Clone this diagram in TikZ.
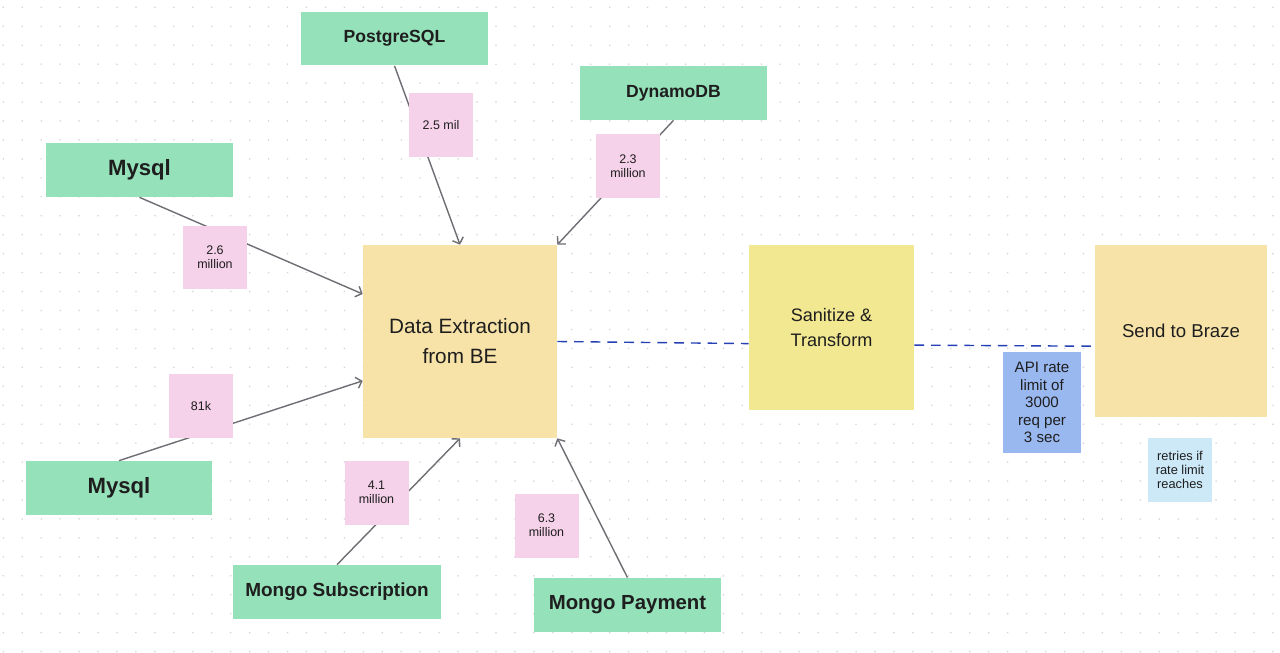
\documentclass[tikz,border=0pt]{standalone}
\usepackage{fontspec}
\setmainfont{Liberation Sans}
\usetikzlibrary{arrows.meta}
\definecolor{ink}{HTML}{1E1E1E}
\definecolor{dbgreen}{HTML}{95E1BA}
\definecolor{stepsand}{HTML}{F7E3A8}
\definecolor{steplemon}{HTML}{F2E892}
\definecolor{notepink}{HTML}{F5D1EA}
\definecolor{noteblue}{HTML}{99B8F0}
\definecolor{notesky}{HTML}{CDE9F8}
\definecolor{feedgray}{HTML}{6E6E74}
\definecolor{flowblue}{HTML}{2440B4}
\definecolor{griddot}{HTML}{D4D4D4}
\tikzset{
  db/.style={fill=dbgreen, text=ink, inner sep=0pt, minimum width=3.74cm,
    minimum height=1.08cm, font=\bfseries\fontsize{10}{12}\selectfont},
  stage/.style={text=ink, inner sep=0pt, align=center},
  count/.style={fill=notepink, text=ink, inner sep=0pt, minimum size=1.28cm,
    align=center, font=\fontsize{7.1}{7.9}\selectfont},
  feed/.style={draw=feedgray, line width=0.8pt, -{Straight Barb[length=3pt,width=6.5pt]}},
  flow/.style={draw=flowblue, line width=0.8pt, dash pattern=on 5.5pt off 4pt}
}
\begin{document}
\begin{tikzpicture}[x=0.02cm, y=-0.02cm]
	\useasboundingbox[fill=white] (0,0) rectangle (1280,652);
	\foreach \i in {0,...,67}
	{
		\foreach \j in {0,...,34}
		{
			\fill[griddot] (3.3+18.95*\i, 7.3+18.95*\j) circle [radius=0.5pt];
		}
	}
	\node[db] (pg) at (394.5,38.5) {PostgreSQL};
	\node[db] (dyn) at (673.5,93) {DynamoDB};
	\node[db, font=\bfseries\fontsize{12.6}{14}\selectfont] (mysqlA) at (139.5,170) {Mysql};
	\node[db, font=\bfseries\fontsize{12.6}{14}\selectfont] (mysqlB) at (119,488) {Mysql};
	\node[db, minimum width=4.16cm, font=\bfseries\fontsize{10.8}{12}\selectfont] (msub) at (337,592) {Mongo Subscription};
	\node[db, font=\bfseries\fontsize{11.6}{13}\selectfont] (mpay) at (627.5,605) {Mongo Payment};
	\node[stage, fill=stepsand, minimum width=3.88cm, minimum height=3.86cm,
		font=\fontsize{11.8}{17}\selectfont] (dx) at (460,341.5) {Data Extraction\\from BE};
	\node[stage, fill=steplemon, minimum size=3.3cm,
		font=\fontsize{10.3}{14.2}\selectfont] (san) at (831.5,327.5) {Sanitize \&\\Transform};
	\node[stage, fill=stepsand, minimum size=3.44cm,
		font=\fontsize{10.6}{12}\selectfont] (braze) at (1181,331) {Send to Braze};
	\node[stage, fill=noteblue, minimum width=1.56cm, minimum height=2.02cm,
		font=\fontsize{8.6}{9.9}\selectfont] (api) at (1042,402.5) {API rate\\limit of\\3000\\req per\\3 sec};
	\node[stage, fill=notesky, minimum size=1.28cm,
		font=\fontsize{7.3}{7.9}\selectfont] (retry) at (1180,470) {retries if\\rate limit\\reaches};
	\draw[feed] (pg.south) -- (dx.north);
	\draw[feed] (dyn.south) -- (dx.north east);
	\draw[feed] (mysqlA.south) -- (dx.154);
	\draw[feed] (mysqlB.north) -- (dx.202);
	\draw[feed] (msub.north) -- (dx.south);
	\draw[feed] (mpay.north) -- (dx.south east);
	\draw[flow] (dx.east) -- (san.191);
	\draw[flow] (san.348) -- (braze.190);
	\node[count] (pgcount) at (441,125) {2.5 mil};
	\node[count] (dyncount) at (628,166) {2.3\\million};
	\node[count] (mysqlAcount) at (215,257.5) {2.6\\million};
	\node[count] (mysqlBcount) at (201,406) {81k};
	\node[count] (msubcount) at (376.5,492.5) {4.1\\million};
	\node[count] (mpaycount) at (546.5,525.5) {6.3\\million};
\end{tikzpicture}
\end{document}
